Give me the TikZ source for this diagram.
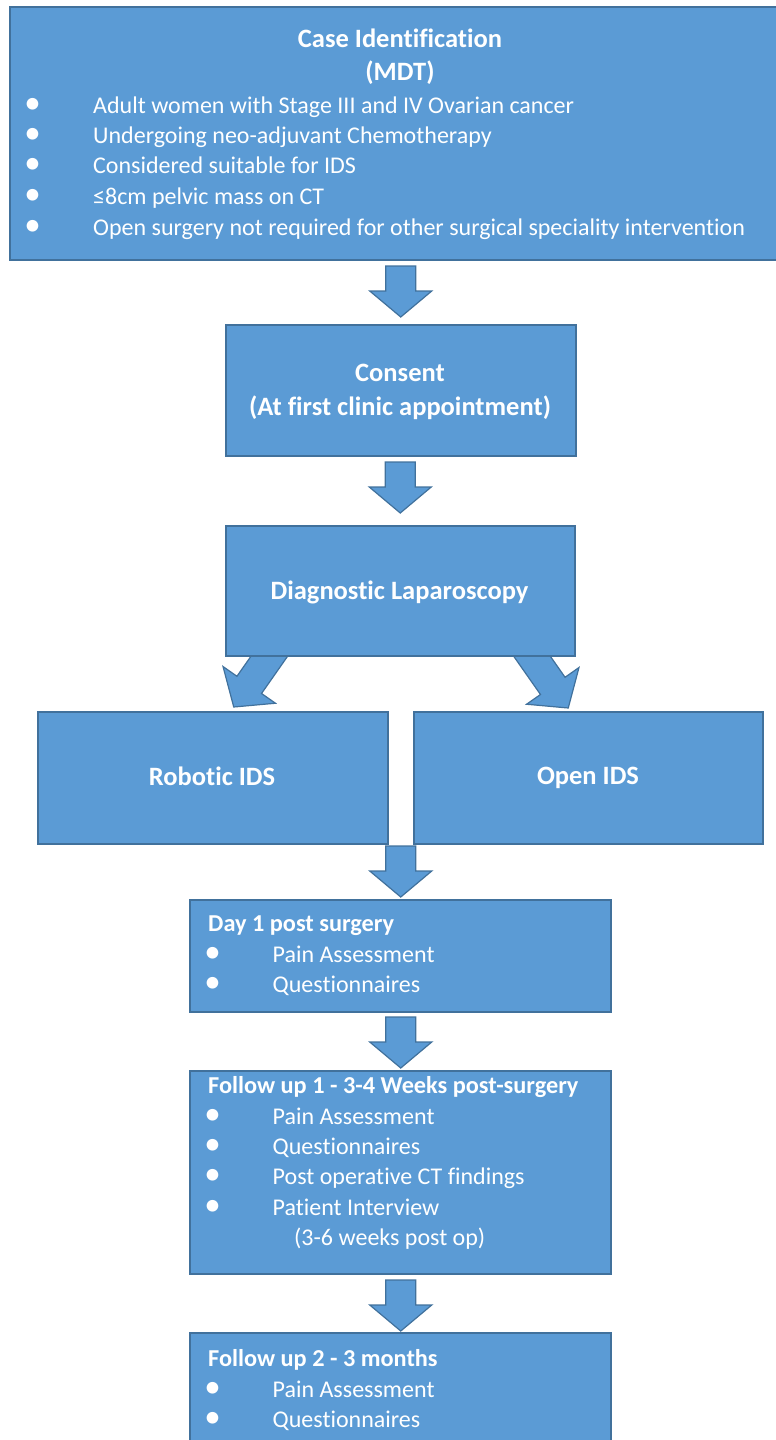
\documentclass[tikz,border=0pt]{standalone}
\usepackage{fontspec}
\setmainfont{Carlito}[Ligatures={NoCommon}]
\usetikzlibrary{calc}
\pgfdeclarelayer{bg}
\pgfsetlayers{bg,main}
\definecolor{boxfill}{HTML}{5B9BD5}
\definecolor{boxline}{HTML}{41719C}
\tikzset{
  box/.style={draw=boxline, fill=boxfill, line width=1.5pt, inner sep=0pt, anchor=north west},
  txt/.style={text=white, font=\fontsize{24}{28}\selectfont, inner sep=0pt, anchor=base west},
  ttl/.style={txt, font=\bfseries\fontsize{24.3}{28}\selectfont},
  ctl/.style={txt, font=\bfseries\fontsize{26.5}{30}\selectfont, anchor=base},
  bul/.style={text=white, font=\fontsize{33}{33}\selectfont, inner sep=0pt, anchor=center},
  arrowshape/.style={draw=boxline, fill=boxfill, line width=1.2pt, line join=miter},
  blockarrow/.pic={\path[arrowshape] (-15,-51) -- (15,-51) -- (15,-26) -- (31,-26) -- (0,0) -- (-31,-26) -- (-15,-26) -- cycle;},
  blockarrowlong/.pic={\path[arrowshape] (-15,-75) -- (15,-75) -- (15,-27) -- (32,-27) -- (0,0) -- (-32,-27) -- (-15,-27) -- cycle;}
}
\begin{document}
\begin{tikzpicture}[x=1pt, y=-1pt]
\useasboundingbox (0,0) rectangle (776,1440);

% boxes
\node[box, minimum width=790pt, minimum height=253pt] (case) at (9,6) {};
\node[box, minimum width=350pt, minimum height=131pt] (consent) at (225,324) {};
\node[box, minimum width=349pt, minimum height=130pt] (diag) at (225,525) {};
\node[box, minimum width=350pt, minimum height=132pt] (robotic) at (37,711) {};
\node[box, minimum width=349pt, minimum height=132pt] (open) at (413,711) {};
\node[box, minimum width=421pt, minimum height=112pt] (day1) at (189,899) {};
\node[box, minimum width=421pt, minimum height=203pt] (fu1) at (189,1070) {};
\node[box, minimum width=421pt, minimum height=140pt] (fu2) at (189,1332) {};

% vertical arrows
\pic at ($(consent.north)+(0,-7)$) {blockarrow};
\pic at ($(diag.north)+(0,-12)$) {blockarrow};
\pic at ($(day1.north)+(0.5,-2)$) {blockarrow};
\pic at ($(fu1.north)+(0.5,-2)$) {blockarrow};
\pic at ($(fu2.north)+(0.5,-1)$) {blockarrow};

% diagonal arrows (tails hidden under the diagnostic box)
\begin{pgfonlayer}{bg}
\pic[rotate=-35] at ($(robotic.north)+(21,-4)$) {blockarrowlong};
\pic[rotate=35] at ($(open.north)+(-20,-3)$) {blockarrowlong};
\end{pgfonlayer}

% case identification text
\node[ctl] (caset1) at (400,47) {Case Identification};
\node[ctl] (caset2) at (400,80) {(MDT)};
\node[bul] (caseb1) at (32.5,106) {•};
\node[bul] (caseb2) at (32.5,136) {•};
\node[bul] (caseb3) at (32.5,166) {•};
\node[bul] (caseb4) at (32.5,197) {•};
\node[bul] (caseb5) at (32.5,228) {•};
\node[txt] (casel1) at (93,113) {Adult women with Stage III and IV Ovarian cancer};
\node[txt] (casel2) at (93,143) {Undergoing neo-adjuvant Chemotherapy};
\node[txt] (casel3) at (93,173) {Considered suitable for IDS};
\node[txt] (casel4) at (93,204) {≤8cm pelvic mass on CT};
\node[txt] (casel5) at (93,235) {Open surgery not required for other surgical speciality intervention};

% consent
\node[ctl] (cons1) at (400,381.5) {Consent};
\node[ctl] (cons2) at (400,415.5) {(At first clinic appointment)};

% diagnostic
\node[ctl] (diagt) at (399.5,599) {Diagnostic Laparoscopy};

% robotic / open
\node[ctl] (robt) at (212,785) {Robotic IDS};
\node[ctl] (opent) at (588,784) {Open IDS};

% day 1
\node[ttl] (d1t) at (208,931) {Day 1 post surgery};
\node[bul] (d1b1) at (212.5,955) {•};
\node[bul] (d1b2) at (212.5,985) {•};
\node[txt] (d1l1) at (272.5,962) {Pain Assessment};
\node[txt] (d1l2) at (272.5,992) {Questionnaires};

% follow up 1
\node[ttl] (f1t) at (208,1093) {Follow up 1 - 3-4 Weeks post-surgery};
\node[bul] (f1b1) at (212.5,1117) {•};
\node[bul] (f1b2) at (212.5,1147) {•};
\node[bul] (f1b3) at (212.5,1177) {•};
\node[bul] (f1b4) at (212.5,1208) {•};
\node[txt] (f1l1) at (272.5,1124) {Pain Assessment};
\node[txt] (f1l2) at (272.5,1154) {Questionnaires};
\node[txt] (f1l3) at (272.5,1184) {Post operative CT findings};
\node[txt] (f1l4) at (272.5,1215) {Patient Interview};
\node[txt] (f1l5) at (294,1245) {(3-6 weeks post op)};

% follow up 2
\node[ttl] (f2t) at (208,1366) {Follow up 2 - 3 months};
\node[bul] (f2b1) at (212.5,1390) {•};
\node[bul] (f2b2) at (212.5,1420) {•};
\node[txt] (f2l1) at (272.5,1397) {Pain Assessment};
\node[txt] (f2l2) at (272.5,1427) {Questionnaires};
\end{tikzpicture}
\end{document}
